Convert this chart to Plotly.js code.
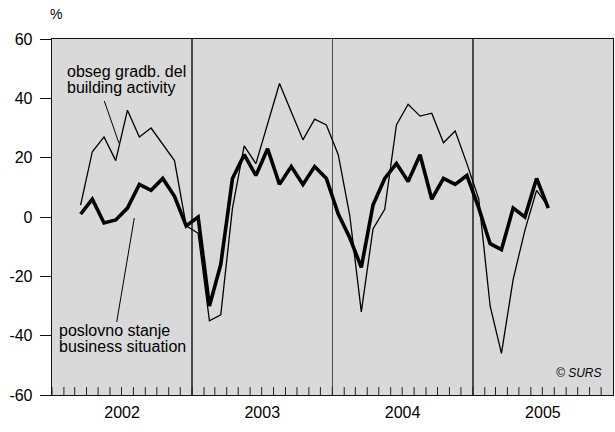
<!DOCTYPE html>
<html>
<head>
<meta charset="utf-8">
<script src="https://cdn.plot.ly/plotly-3.0.1.min.js"></script>
<style>
  html, body { margin: 0; padding: 0; background: #fff; }
  #chart { width: 615px; height: 432px; }
</style>
</head>
<body>
<div id="chart"></div>
<script>
// Months (first day of each month; points drawn at month middle)
const months = [
  '2002-03','2002-04','2002-05','2002-06','2002-07','2002-08','2002-09','2002-10','2002-11','2002-12',
  '2003-01','2003-02','2003-03','2003-04','2003-05','2003-06','2003-07','2003-08','2003-09','2003-10','2003-11','2003-12',
  '2004-01','2004-02','2004-03','2004-04','2004-05','2004-06','2004-07','2004-08','2004-09','2004-10','2004-11','2004-12',
  '2005-01','2005-02','2005-03','2005-04','2005-05','2005-06','2005-07'
];

// obseg gradb. del / building activity (thin line)
const buildingActivity = [
  4, 22, 27, 19, 36, 27, 30, 24.5, 19, -3,
  -5.5, -35, -33, 3, 24, 18, 31, 45, 35.5, 26, 33, 31,
  21, 0.5, -32, -4, 2.6, 31, 38, 34, 35, 25, 29, 18,
  6, -30, -46, -21, -4.5, 9, 3.5
];

// poslovno stanje / business situation (thick line)
const businessSituation = [
  1, 6, -2, -1, 3, 11, 9, 13, 7, -3,
  0, -30, -16, 13, 21, 14, 23, 11, 17, 11, 17, 13,
  1, -7, -17, 4, 13, 18, 12, 21, 6, 13, 11, 14,
  3, -9, -11, 3, 0, 13, 3
];

const yTicks = [-60, -40, -20, 0, 20, 40, 60];
const years = [2002, 2003, 2004, 2005];
const xRange = [years[0] + '-01-01', (years[years.length - 1] + 1) + '-01-01'];

const FONT = '"Liberation Sans", Arial, Helvetica, sans-serif';
const x = months.map(m => m + '-01');

// monthly tick marks along the bottom axis (axis decoration)
const monthTickShapes = [];
years.forEach(yr => {
  for (let m = 1; m <= 12; m++) {
    const d = yr + '-' + String(m).padStart(2, '0') + '-01';
    monthTickShapes.push({
      type: 'line', xref: 'x', yref: 'paper', x0: d, x1: d, y0: 0, y1: 8 / 356,
      line: { color: '#222', width: 1 }, layer: 'above'
    });
  }
});

const traces = [
  {
    type: 'scatter', mode: 'lines', name: 'obseg gradb. del',
    x: x, y: buildingActivity, xperiod: 'M1', xperiodalignment: 'middle',
    line: { color: '#000', width: 1.3 }, hoverinfo: 'skip'
  },
  {
    type: 'scatter', mode: 'lines', name: 'poslovno stanje',
    x: x, y: businessSituation, xperiod: 'M1', xperiodalignment: 'middle',
    line: { color: '#000', width: 3.6 }, hoverinfo: 'skip'
  }
];

const layout = {
  width: 615, height: 432,
  margin: { l: 52, r: 2, t: 39, b: 37 },
  paper_bgcolor: '#fff',
  plot_bgcolor: '#d9d9d9',
  showlegend: false,
  font: { family: FONT, color: '#000', size: 15 },
  xaxis: {
    type: 'date',
    range: xRange,
    tick0: xRange[0], dtick: 'M12',
    ticklabelmode: 'period',
    tickformat: '%Y',
    ticks: '',
    showgrid: true, gridcolor: '#4a4a4a', gridwidth: 1.5,
    showline: true, linecolor: '#111', linewidth: 1.3, mirror: true,
    zeroline: false,
    tickfont: { size: 16, family: FONT },
    ticklabelstandoff: 2,
    fixedrange: true
  },
  yaxis: {
    range: [-60, 60],
    tickvals: yTicks,
    ticktext: yTicks.map(String),
    ticks: 'outside', ticklen: 11, tickwidth: 1, tickcolor: '#111',
    showgrid: false, zeroline: false,
    showline: true, linecolor: '#111', linewidth: 1.3, mirror: true,
    tickfont: { size: 16, family: FONT },
    ticklabelstandoff: 4,
    fixedrange: true
  },
  annotations: [
    { xref: 'paper', yref: 'paper', x: (55.5 - 52) / 561, y: (395 - 14) / 356, text: '%', showarrow: false,
      xanchor: 'center', yanchor: 'middle', font: { size: 14, family: FONT } },
    { xref: 'paper', yref: 'paper', x: (65 - 52) / 561, y: (395 - 72) / 356, text: 'obseg gradb. del', showarrow: false,
      xanchor: 'left', yanchor: 'middle', font: { size: 16, family: FONT } },
    { xref: 'paper', yref: 'paper', x: (65 - 52) / 561, y: (395 - 88) / 356, text: 'building activity', showarrow: false,
      xanchor: 'left', yanchor: 'middle', font: { size: 16, family: FONT } },
    { xref: 'paper', yref: 'paper', x: (57 - 52) / 561, y: (395 - 330) / 356, text: 'poslovno stanje', showarrow: false,
      xanchor: 'left', yanchor: 'middle', font: { size: 16, family: FONT } },
    { xref: 'paper', yref: 'paper', x: (57 - 52) / 561, y: (395 - 346) / 356, text: 'business situation', showarrow: false,
      xanchor: 'left', yanchor: 'middle', font: { size: 16, family: FONT } },
    { xref: 'paper', yref: 'paper', x: (604 - 52) / 561, y: (395 - 373) / 356, text: '<i>© SURS</i>', showarrow: false,
      xanchor: 'right', yanchor: 'middle', font: { size: 12, family: FONT } }
  ],
  shapes: [
    { type: 'line', xref: 'paper', yref: 'paper',
      x0: (104.3 - 52) / 561, y0: (395 - 101) / 356, x1: (119 - 52) / 561, y1: (395 - 143.3) / 356,
      line: { color: '#000', width: 1 } },
    { type: 'line', xref: 'paper', yref: 'paper',
      x0: (134.3 - 52) / 561, y0: (395 - 218) / 356, x1: (116.7 - 52) / 561, y1: (395 - 322) / 356,
      line: { color: '#000', width: 1 } }
  ].concat(monthTickShapes)
};

Plotly.newPlot('chart', traces, layout, { displayModeBar: false, staticPlot: true });
</script>
</body>
</html>
